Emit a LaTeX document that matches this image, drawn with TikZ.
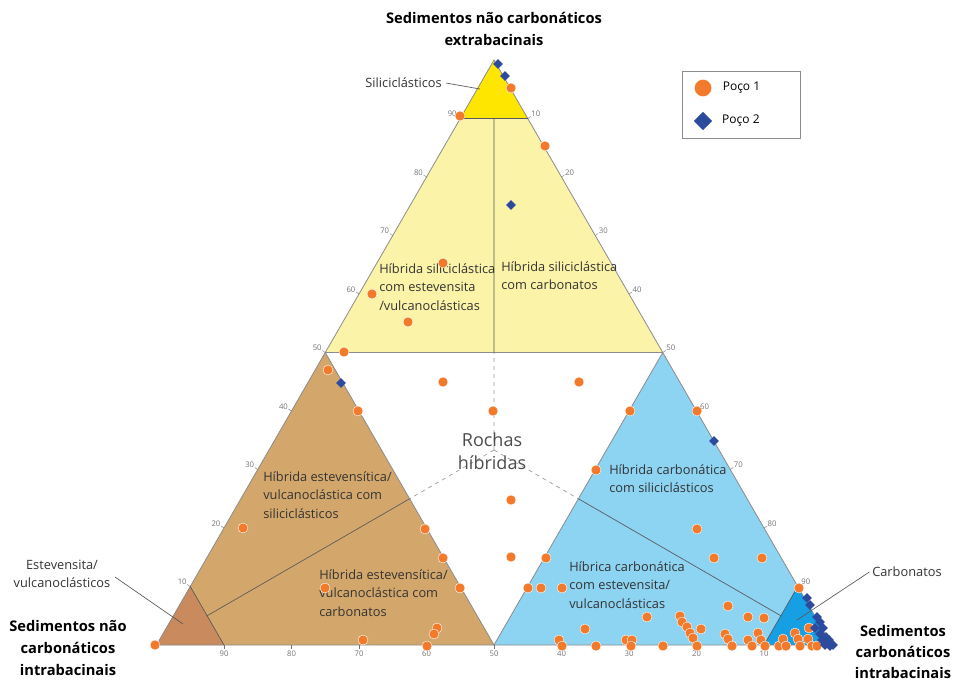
\documentclass[tikz,border=0pt]{standalone}
\usepackage{fontspec}
\setmainfont{Open Sans}
\usetikzlibrary{calc,positioning,shapes.geometric}
\definecolor{amarelo}{HTML}{FBF3A8}
\definecolor{amareloforte}{HTML}{FFE600}
\definecolor{marrom}{HTML}{D3A76B}
\definecolor{marromescuro}{HTML}{C98A5E}
\definecolor{azul}{HTML}{8DD3F2}
\definecolor{azulforte}{HTML}{169FE3}
\definecolor{laranja}{HTML}{F37A2B}
\definecolor{losango}{HTML}{2C4A9E}
\definecolor{borda}{HTML}{8C8C8C}
\begin{document}
\begin{tikzpicture}[x=0.75pt,y=-0.75pt,
    poco1/.style={circle, fill=laranja, draw=white, line width=0.3pt, inner sep=0pt, minimum size=7.5pt},
    poco2/.style={diamond, fill=losango, inner sep=0pt, minimum size=7.5pt},
    campo/.style={align=left, anchor=north west, inner sep=0pt, text=black!80, font=\fontsize{9.6}{14}\selectfont},
    polo/.style={align=center, inner sep=0pt, font=\bfseries\fontsize{11}{16.5}\selectfont},
    escala/.style={inner sep=1pt, text=black!55, font=\fontsize{5.8}{6}\selectfont},
    guia/.style={draw=black!65, line width=0.5pt}]
\useasboundingbox (0,0) rectangle (955,682);

\coordinate (A) at (494,60);
\coordinate (L) at (156.5,645);
\coordinate (R) at (831.5,645);
\coordinate (mL) at ($(L)!0.5!(A)$);
\coordinate (mR) at ($(R)!0.5!(A)$);
\coordinate (mB) at ($(L)!0.5!(R)$);
\coordinate (C) at ($(mB)!1/3!(A)$);
\coordinate (tL) at ($(L)!0.9!(A)$);
\coordinate (tR) at ($(R)!0.9!(A)$);
\coordinate (tM) at ($(tL)!0.5!(tR)$);
\coordinate (L1) at ($(L)!0.1!(A)$);
\coordinate (L2) at ($(L)!0.1!(R)$);
\coordinate (R1) at ($(R)!0.1!(A)$);
\coordinate (R2) at ($(R)!0.1!(L)$);
\coordinate (bM) at ($(mL)!0.5!(mB)$);
\coordinate (cM) at ($(mR)!0.5!(mB)$);
\coordinate (bL) at ($(L1)!0.5!(L2)$);
\coordinate (cR) at ($(R1)!0.5!(R2)$);

\fill[amarelo] (A) -- (mL) -- (mR) -- cycle;
\fill[amareloforte] (A) -- (tL) -- (tR) -- cycle;
\fill[marrom] (L) -- (mL) -- (mB) -- cycle;
\fill[marromescuro] (L) -- (L1) -- (L2) -- cycle;
\fill[azul] (mB) -- (mR) -- (R) -- cycle;
\fill[azulforte] (R) -- (R1) -- (R2) -- cycle;
\draw[borda, line width=0.6pt] (A) -- (L) -- (R) -- cycle (mL) -- (mR) (mL) -- (mB) -- (mR);
\draw[guia] (tL) -- (tR) (tM) -- (mB |- mL) (L1) -- (L2) (R1) -- (R2) (bM) -- (bL) (cM) -- (cR);
\draw[black!40, dashed, line width=0.5pt] (C) -- (mB |- mL) (C) -- (bM) (C) -- (cM);

\foreach \v in {10,20,...,90} {
  \draw[black!55, line width=0.3pt] ($(L)!\v/100!(A)$) -- ++(-3,-2);
  \node[escala, anchor=south east] (ee\v) at ($(L)!\v/100!(A)+(-2,0)$) {\v};
  \draw[black!55, line width=0.3pt] ($(A)!\v/100!(R)$) -- ++(3,-2);
  \node[escala, anchor=south west] (ed\v) at ($(A)!\v/100!(R)+(2,0)$) {\v};
  \draw[black!55, line width=0.3pt] ($(R)!\v/100!(L)$) -- ++(0,4);
  \node[escala, anchor=north] (eb\v) at ($(R)!\v/100!(L)+(0,4)$) {\v};
}

\node[polo] (topo) at (494,29) {Sedimentos não carbonáticos\\extrabacinais};
\node[polo] (esq) at (68,648) {Sedimentos não\\carbonáticos\\intrabacinais};
\node[polo, font=\bfseries\fontsize{11}{15.8}\selectfont] (dir) at (903,652) {Sedimentos\\carbonáticos\\intrabacinais};

\node[campo] (hsE) at (379,263) {Híbrida siliciclástica\\com estevensita\\/vulcanoclásticas};
\node[campo] (hsC) at (501,261) {Híbrida siliciclástica\\com carbonatos};
\node[campo] (heS) at (263,471) {Híbrida estevensítica/\\vulcanoclástica com\\siliciclásticos};
\node[campo] (hcS) at (609,464) {Híbrida carbonática\\com siliciclásticos};
\node[campo] (heC) at (319,569) {Híbrida estevensítica/\\vulcanoclástica com\\carbonatos};
\node[campo] (hcE) at (569,561) {Híbrica carbonática\\com estevensita/\\vulcanoclásticas};
\node[align=center, inner sep=0pt, text=black!70, font=\fontsize{13.5}{17.5}\selectfont] (hib) at (492,451) {Rochas\\híbridas};

\node[campo, anchor=east] (sil) at (442,83) {Siliciclásticos};
\coordinate (silP) at (480,89);
\draw[guia] ([xshift=3pt]sil.east) -- (silP);
\node[campo, anchor=center, align=center] (est) at (62,574) {Estevensita/\\vulcanoclásticos};
\coordinate (estO) at (115,577);
\coordinate (estP) at (183,624);
\draw[guia] (estO) -- (estP);
\node[campo, anchor=west] (car) at (872,572) {Carbonatos};
\coordinate (carP) at (797,620);
\draw[guia] ([xshift=-2pt]car.west) -- (carP);

\foreach \x/\y [count=\i] in {511/88,460/116,545/146,443/263,372/294,408/322,344/352,
  443/382,579/382,493/411,328/370,358/411,630/411,596/470,511/500,511/557,425/529,443/558,460/588,
  243/528,325/588,363/640,437/628,434/634,427/646,155/645,
  697/411,697/529,714/558,762/558,799/588,546/558,528/588,541/588,562/588,728/606,647/617,
  680/616,682/622,687/627,690/633,693/638,697/646,701/629,748/617,764/618,585/629,559/640,
  562/646,596/646,626/640,632/640,631/646,663/646,725/634,728/639,732/646,748/640,752/646,
  758/633,761/640,765/646,779/646,783/639,786/646,795/633,798/639,800/646,809/628,808/639,
  812/646,817/646}
  \node[poco1] (a\i) at (\x,\y) {};
\foreach \x/\y [count=\i] in {498/64,505/76,511/205,341/383,714/441,807/598,810/605,817/617,
  820/622,815/628,823/628,820/634,826/637,829/640,830/646,825/645,822/640,833/645}
  \node[poco2] (b\i) at (\x,\y) {};

\draw[borda, line width=0.5pt] (682,71) rectangle (800,138);
\node[poco1, minimum size=13pt] (leg1) at (703,88) {};
\node[poco2, minimum size=14pt] (leg2) at (703,121) {};
\node[right=8pt of leg1, inner sep=0pt, font=\fontsize{9}{11}\selectfont] (leg1t) {Poço 1};
\node[right=7pt of leg2, inner sep=0pt, font=\fontsize{9}{11}\selectfont] (leg2t) {Poço 2};
\end{tikzpicture}
\end{document}
